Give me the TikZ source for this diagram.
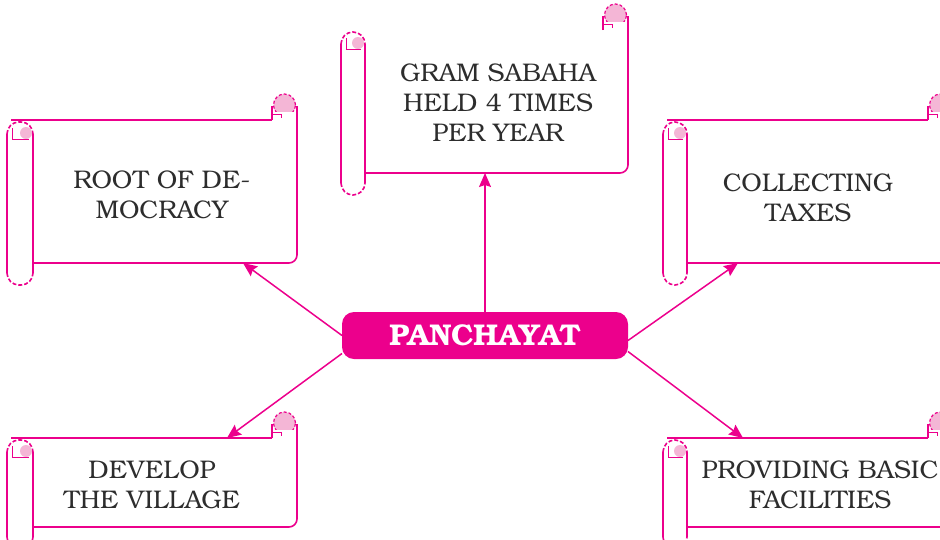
\documentclass[tikz,border=0pt]{standalone}
\usepackage{fontspec}
\setmainfont{texgyrebonum}[Extension=.otf,UprightFont=*-regular,BoldFont=*-bold,ItalicFont=*-italic,BoldItalicFont=*-bolditalic]
\usetikzlibrary{arrows.meta}
\definecolor{pinkc}{RGB}{236,0,140}
\definecolor{curlpink}{RGB}{244,182,214}
\definecolor{txtgray}{RGB}{45,45,45}

% #1 cylinder left, #2 cylinder right / sheet left, #3 sheet right, #4 top, #5 bottom, #6 top-line option
\newcommand\drawscroll[6]{%
  \fill[white] (#2,#4) rectangle (#3,#5);
  \draw[ln,#6] ({#1+4},#4) -- ({#3-25},#4);
  \draw[ln,rounded corners=8pt] (#3,{#4-14}) -- (#3,#5) -- (#2,#5);
  \fill[white] (#1,{#4+2}) rectangle (#2,{#5+22});
  \draw[ln] (#1,{#4+14}) -- (#1,{#5+10});
  \draw[ln] (#2,{#4+14}) -- (#2,{#5+10});
  \draw[ln,dash pattern=on 4pt off 2pt,rounded corners=12pt] (#1,{#4+14}) -- (#1,{#4+2}) -- (#2,{#4+2}) -- (#2,{#4+14});
  \draw[ln,dash pattern=on 4pt off 2pt,rounded corners=12pt] (#1,{#5+10}) -- (#1,{#5+22}) -- (#2,{#5+22}) -- (#2,{#5+10});
  \fill[curlpink] ({#2-7},{#4+13}) circle (6pt);
  \draw[pinkc,line width=1pt] ({#1+5},{#4+8}) -- ({#1+5},{#4+19}) -- ({#2-4},{#4+19});
  \filldraw[fill=curlpink,draw=pinkc,line width=1.2pt,dash pattern=on 3pt off 2pt] ({#3-12.5},{#4-15}) circle (11pt);
  \fill[white] ({#3-24},{#4-8}) rectangle ({#3-1},{#4-1});
  \draw[ln] ({#3-25},#4) -- ({#3-25},{#4-14});
  \draw[pinkc,line width=1pt] ({#3-25},{#4-6}) -- ({#3-16},{#4-6}) -- ({#3-16},{#4-2});
}

\begin{document}
\begin{tikzpicture}[x=1pt,y=-1pt,
  ln/.style={draw=pinkc,line width=1.6pt},
  body/.style={draw=none,inner sep=0pt,outer sep=0pt},
  txt/.style={align=center,text=txtgray,font=\fontsize{25.5}{30}\selectfont,inner sep=0pt},
  pan/.style={fill=pinkc,rounded corners=12pt,minimum width=286pt,minimum height=47pt,
    text=white,font=\bfseries\fontsize{30}{32}\selectfont,inner sep=0pt,outer sep=0pt},
  arr/.style={draw=pinkc,line width=1.5pt,-{Stealth[length=14pt,width=12pt,inset=2pt]}}]
\useasboundingbox (0,0) rectangle (940,539);
\clip (0,0) rectangle (940,539);

\drawscroll{7}{33}{297}{120}{263}{}
\drawscroll{341}{365}{628}{30}{173}{draw=none}
\drawscroll{663}{687}{953}{120}{263}{}
\drawscroll{7}{33}{297}{438}{527}{}
\drawscroll{663}{687}{953}{438}{527}{}

\node[body,minimum width=264pt,minimum height=143pt] (root) at (165,191.5) {};
\node[body,minimum width=263pt,minimum height=143pt] (gram) at (496.5,101.5) {};
\node[body,minimum width=266pt,minimum height=143pt] (coll) at (820,191.5) {};
\node[body,minimum width=264pt,minimum height=89pt] (dev) at (165,482.5) {};
\node[body,minimum width=266pt,minimum height=89pt] (prov) at (820,482.5) {};

\node[txt] (rootT) at (162,195) {ROOT OF DE-\\MOCRACY};
\node[txt] (gramT) at (498,103) {GRAM SABAHA\\HELD 4 TIMES\\PER YEAR};
\node[txt] (collT) at (808,198) {COLLECTING\\TAXES};
\node[txt] (devT) at (152,485) {DEVELOP\\THE VILLAGE};
\node[txt] (provT) at (820,485) {PROVIDING BASIC\\FACILITIES};

\node[pan] (pan) at (485,335.5) {PANCHAYAT};

\draw[arr] (pan.west) -- ([xshift=78pt]root.south);
\draw[arr] (pan.north) -- (pan.north |- gram.south);
\draw[arr] ([yshift=-5pt]pan.east) -- ([xshift=-82pt]coll.south);
\draw[arr] ([yshift=-18pt]pan.west) -- ([xshift=62pt]dev.north);
\draw[arr] ([yshift=-16pt]pan.east) -- ([xshift=-77pt]prov.north);
\end{tikzpicture}
\end{document}
